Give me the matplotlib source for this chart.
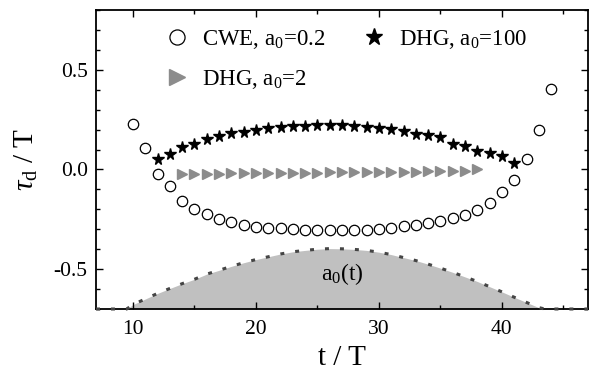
import matplotlib
matplotlib.use("Agg")
import matplotlib.pyplot as plt
from matplotlib.ticker import MultipleLocator

plt.rcParams['font.family'] = ['Liberation Serif', 'DejaVu Serif']
plt.rcParams['mathtext.fontset'] = 'custom'
plt.rcParams['mathtext.rm'] = 'Liberation Serif'
plt.rcParams['mathtext.it'] = 'Liberation Serif:italic'

# CWE, a0=0.2
t_cwe = list(range(10, 45))
cwe = [0.226, 0.11, -0.025, -0.085, -0.16, -0.197, -0.225, -0.246, -0.265, -0.28,
       -0.287, -0.292, -0.296, -0.300, -0.304, -0.305, -0.306, -0.306, -0.306, -0.305,
       -0.298, -0.293, -0.286, -0.279, -0.267, -0.258, -0.243, -0.226, -0.204, -0.167,
       -0.115, -0.055, 0.05, 0.197, 0.405]

# DHG, a0=2
t_dhg2 = list(range(14, 39))
dhg2 = [-0.022, -0.022, -0.021, -0.021, -0.020, -0.019, -0.018, -0.018, -0.017, -0.017,
        -0.016, -0.016, -0.015, -0.015, -0.014, -0.014, -0.013, -0.012, -0.012, -0.011,
        -0.010, -0.009, -0.008, -0.006, 0.002]

# DHG, a0=100
t_dhg100 = list(range(12, 42))
dhg100 = [0.054, 0.08, 0.112, 0.13, 0.152, 0.167, 0.185, 0.19, 0.2, 0.21,
          0.215, 0.218, 0.22, 0.223, 0.223, 0.225, 0.218, 0.215, 0.21, 0.204,
          0.193, 0.18, 0.172, 0.165, 0.13, 0.117, 0.093, 0.084, 0.07, 0.034]

# envelope a0(t)
t_env = [7, 8, 9, 9.5, 10, 11, 12, 13, 14, 15, 16, 17, 18, 19, 20, 21, 22, 23, 24, 25,
         26, 27, 28, 29, 30, 31, 32, 33, 34, 35, 36, 37, 38, 39, 40, 41, 42, 43, 43.5,
         44, 45, 46, 47]
env = [-0.70, -0.70, -0.70, -0.70, -0.678, -0.650, -0.622, -0.597, -0.573, -0.551,
       -0.525, -0.506, -0.486, -0.468, -0.452, -0.438, -0.424, -0.413, -0.406, -0.400,
       -0.397, -0.398, -0.401, -0.406, -0.415, -0.427, -0.442, -0.457, -0.475, -0.495,
       -0.516, -0.539, -0.562, -0.588, -0.614, -0.641, -0.667, -0.693, -0.70,
       -0.70, -0.70, -0.70, -0.70]

fig = plt.figure(figsize=(5.89, 3.76), dpi=100)
ax = fig.add_axes([96/589, 1-309/376, 492/589, 299/376])

ax.fill_between(t_env, -0.7, env, color='#c0c0c0', lw=0, zorder=1)
ax.plot(t_env, env, color='#454545', lw=2.2, linestyle=(0, (1.3, 3.6)), zorder=4,
        clip_on=False)

ax.plot(t_cwe, cwe, 'o', ms=7.5, mfc='white', mec='black', mew=0.9, ls='none',
        label=r'CWE, a$_0$=0.2', zorder=3)
ax.plot(t_dhg2, dhg2, '>', ms=7.5, color='#8c8c8c', ls='none',
        label=r'DHG, a$_0$=2', zorder=3)
ax.plot(t_dhg100, dhg100, '*', ms=8.5, color='black', ls='none',
        label=r'DHG, a$_0$=100', zorder=3)

ax.text(27.0, -0.525, r'a$_0$(t)', fontsize=17, ha='center', va='center')

ax.set_xlim(7, 47)
ax.set_ylim(-0.7, 0.8)
ax.xaxis.set_major_locator(MultipleLocator(10))
ax.xaxis.set_minor_locator(MultipleLocator(5))
ax.yaxis.set_major_locator(MultipleLocator(0.5))
ax.yaxis.set_minor_locator(MultipleLocator(0.1))
ax.tick_params(which='both', direction='in', top=True, right=True, labelsize=15.5, width=1)
ax.tick_params(which='major', length=5)
ax.tick_params(which='minor', length=3)
ax.tick_params(axis='x', which='major', pad=8)
ax.tick_params(axis='y', which='major', pad=6)
for s in ax.spines.values():
    s.set_linewidth(1.3)

ax.set_yticks([-0.5, 0.0, 0.5])
ax.set_yticklabels(['-0.5', '0.0', '0.5'])
ax.set_xlabel('t / T', fontsize=21, labelpad=4)
ax.set_ylabel(r'$\tau_{\rm d}$ / T', fontsize=21, labelpad=10)

ax.legend(loc='upper left', bbox_to_anchor=(0.1, 1.01), ncol=2, frameon=False,
          fontsize=16.5, markerscale=1.45, handlelength=1.0, handletextpad=0.6,
          columnspacing=1.6, labelspacing=0.75)

fig.savefig('out.png', dpi=100)
